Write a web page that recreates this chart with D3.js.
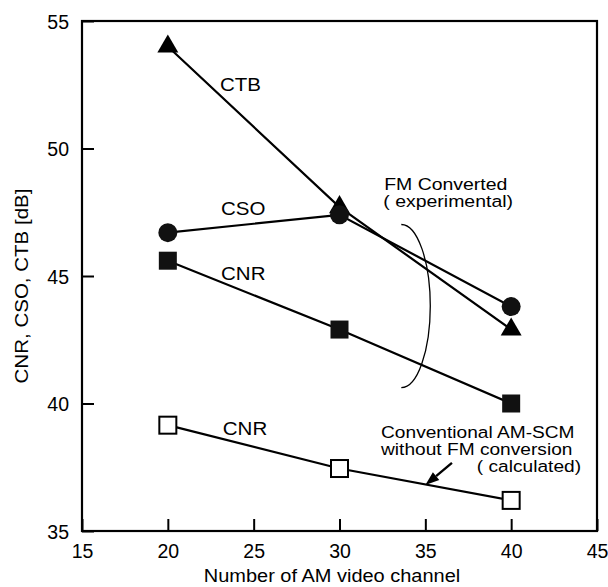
<!DOCTYPE html>
<html><head><meta charset="utf-8">
<script src="https://cdn.jsdelivr.net/npm/d3@7"></script>
<style>body{margin:0;background:#fff}svg{display:block;font-family:"Liberation Sans",Arial,Helvetica,sans-serif}</style>
</head><body><svg id="c" width="608" height="587"></svg>
<script>
const channels = [20, 30, 40];
const ctb = [54.0, 47.7, 42.9];
const cso = [46.7, 47.4, 43.8];
const cnrFM = [45.6, 42.9, 40.0];
const cnrConv = [39.15, 37.45, 36.2];
const xTicks = [15, 20, 25, 30, 35, 40, 45];
const yTicks = [35, 40, 45, 50, 55];
const xTitle = "Number of AM video channel";
const yTitle = "CNR, CSO, CTB [dB]";

const svg = d3.select("#c");
const x = d3.scaleLinear().domain([15, 45]).range([82, 597]);
const y = d3.scaleLinear().domain([35, 55]).range([531, 21]);
const SX = 1.08;

// axes
const xAxis = d3.axisBottom(x).tickValues(xTicks).tickSizeInner(-12).tickSizeOuter(0).tickPadding(8).tickFormat(d3.format("d"));
const gx = svg.append("g").attr("transform", `translate(0,${y(35)})`).call(xAxis);
const yAxis = d3.axisLeft(y).tickValues(yTicks).tickSizeInner(-12).tickSizeOuter(0).tickPadding(13).tickFormat(d3.format("d"));
const gy = svg.append("g").attr("transform", `translate(${x(15)},0)`).call(yAxis);
[gx, gy].forEach(g => {
  g.select(".domain").remove();
  g.selectAll(".tick line").attr("stroke", "#000").attr("stroke-width", 2);
  g.selectAll(".tick text").attr("fill", "#000").style("font-size", "19.5px").style("font-family", "'Liberation Sans',Arial,sans-serif");
});
gx.selectAll(".tick text").attr("y", 27).attr("dy", 0);
gy.selectAll(".tick text").attr("dy", "0.36em");

svg.append("rect").attr("x", x(15)).attr("y", y(55)).attr("width", x(45) - x(15)).attr("height", y(35) - y(55))
  .attr("fill", "none").attr("stroke", "#000").attr("stroke-width", 2.2);

// titles
svg.append("text").attr("transform", `translate(332,582) scale(${SX},1)`).attr("text-anchor", "middle")
  .style("font-size", "18.5px").text(xTitle);
svg.append("text").attr("transform", `translate(28,286) rotate(-90) scale(${SX},1)`).attr("text-anchor", "middle")
  .style("font-size", "19px").text(yTitle);

// series
const line = d3.line().x((d, i) => x(channels[i])).y(d => y(d));
const series = [
  {v: ctb, m: "tri"}, {v: cso, m: "circ"}, {v: cnrFM, m: "sq"}, {v: cnrConv, m: "osq"}
];
series.forEach(s => {
  svg.append("path").datum(s.v).attr("d", line).attr("fill", "none").attr("stroke", "#000").attr("stroke-width", 2.2);
});
series.forEach(s => {
  const g = svg.append("g");
  s.v.forEach((v, i) => {
    const cx = x(channels[i]), cy = y(v);
    if (s.m === "tri") {
      g.append("path").attr("d", d3.symbol().type(d3.symbolTriangle).size(190)()).attr("transform", `translate(${cx},${cy})`).attr("fill", "#000");
    } else if (s.m === "circ") {
      g.append("circle").attr("cx", cx).attr("cy", cy).attr("r", 9.5).attr("fill", "#111");
    } else if (s.m === "sq") {
      g.append("rect").attr("x", cx - 9).attr("y", cy - 9).attr("width", 18).attr("height", 18).attr("fill", "#111");
    } else {
      g.append("rect").attr("x", cx - 8.5).attr("y", cy - 8.5).attr("width", 17).attr("height", 17).attr("fill", "#fff").attr("stroke", "#000").attr("stroke-width", 2);
    }
  });
});

// labels
const lab = (tx, ty, t, size, sx) => svg.append("text")
  .attr("transform", `translate(${x(tx)},${y(ty)}) scale(${sx || SX},1)`)
  .style("font-size", (size || 19) + "px").text(t);
lab(23.04, 52.25, "CTB");
lab(23.1, 47.39, "CSO");
lab(23.1, 44.84, "CNR");
lab(23.2, 38.76, "CNR");
lab(32.6, 48.39, "FM Converted", 16.5, 1.18);
lab(32.55, 47.69, "( experimental)", 16.5, 1.18);
lab(32.42, 38.65, "Conventional  AM-SCM", 16.5, 1.16);
lab(32.42, 37.98, "without FM conversion", 16.5, 1.16);
lab(38.0, 37.31, "( calculated)", 16.5, 1.16);

// bracket arc
const cxA = x(33.6), cyA = y(43.82), ry = y(40.6) - y(43.8), rx = 29;
svg.append("path").attr("d", `M${cxA},${cyA - ry} A${rx},${ry} 0 0 1 ${cxA},${cyA + ry}`)
  .attr("fill", "none").attr("stroke", "#000").attr("stroke-width", 1.3);

// arrow
const ax1 = x(36.55), ay1 = y(37.67), ax2 = x(35.0), ay2 = y(36.8);
const ang = Math.atan2(ay2 - ay1, ax2 - ax1);
const hl = 14, hw = 5;
const bx = ax2 - hl * Math.cos(ang), by = ay2 - hl * Math.sin(ang);
svg.append("line").attr("x1", ax1).attr("y1", ay1).attr("x2", bx).attr("y2", by).attr("stroke", "#000").attr("stroke-width", 2.4);
svg.append("path").attr("d", `M${ax2},${ay2} L${bx - hw * Math.sin(ang)},${by + hw * Math.cos(ang)} L${bx + hw * Math.sin(ang)},${by - hw * Math.cos(ang)} Z`).attr("fill", "#000");
</script></body></html>
